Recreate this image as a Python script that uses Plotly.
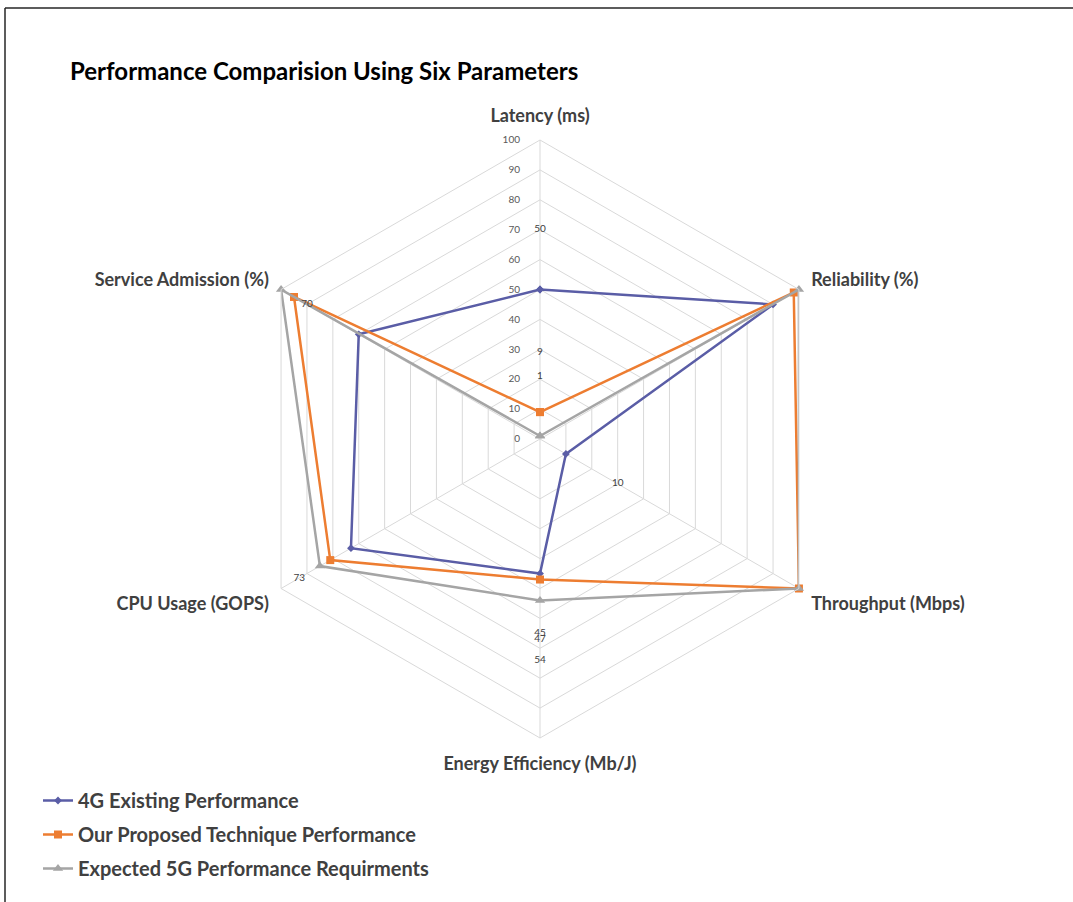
import plotly.graph_objects as go

# Radar axes, clockwise from the top
categories = ["Latency (ms)", "Reliability (%)", "Throughput (Mbps)",
              "Energy Efficiency (Mb/J)", "CPU Usage (GOPS)", "Service Admission (%)"]

series_names = ["4G Existing Performance",
                "Our Proposed Technique Performance",
                "Expected 5G Performance Requirments"]

values_4g = [50, 90, 10, 45, 73, 70]
values_proposed = [9, 98, 100, 47, 81, 95]
values_5g = [1, 100, 100, 54, 85, 100]

radial_ticks = [0, 10, 20, 30, 40, 50, 60, 70, 80, 90, 100]

W, H = 1073, 902
CX, CY, R = 540, 439, 299          # centre and outer radius of the radar, px
LABEL_OFFSET = 20                  # value labels sit this far outside their marker

colors = ["#5A5DA6", "#ED7D31", "#A5A5A5"]
symbols = ["diamond", "square", "triangle-up"]
msizes = [6, 8, 9]
all_values = [values_4g, values_proposed, values_5g]

fig = go.Figure()

for i, (name, vals, col, sym, ms) in enumerate(zip(series_names, all_values, colors, symbols, msizes)):
    fig.add_trace(go.Scatterpolar(
        r=vals + vals[:1], theta=categories + categories[:1],
        mode="lines+markers", name="<b>" + name + "</b>",
        legendgroup=f"g{i}",
        line=dict(color=col, width=2.5),
        marker=dict(color=col, symbol=sym, size=ms),
    ))

for vals in all_values:
    fig.add_trace(go.Scatterpolar(
        r=[v + LABEL_OFFSET for v in vals], theta=categories,
        mode="text", text=[str(v) for v in vals],
        textfont=dict(size=10, color="#404040", family="Lato"),
        showlegend=False, cliponaxis=False, hoverinfo="skip",
    ))

fig.update_layout(
    width=W, height=H,
    margin=dict(l=0, r=0, t=0, b=0),
    paper_bgcolor="white", plot_bgcolor="white",
    font=dict(family="Lato", color="#404040"),
    title=dict(text="<b>Performance Comparision Using Six Parameters</b>",
               x=70 / W, xanchor="left", y=1 - 72 / H, yanchor="middle",
               font=dict(size=24, color="#000000", family="Lato")),
    polar=dict(
        domain=dict(x=[(CX - R) / W, (CX + R) / W],
                    y=[1 - (CY + R) / H, 1 - (CY - R) / H]),
        gridshape="linear",
        bgcolor="white",
        radialaxis=dict(range=[0, 100], tickvals=radial_ticks,
                        angle=90, side="counterclockwise", tickangle=90,
                        showline=False, ticks="outside", ticklen=16,
                        tickcolor="rgba(0,0,0,0)",
                        gridcolor="#D9D9D9", gridwidth=1,
                        tickfont=dict(size=10, color="#595959", family="Lato")),
        angularaxis=dict(direction="clockwise", rotation=90,
                         showline=True, linecolor="#D9D9D9", linewidth=1,
                         gridcolor="#D9D9D9", gridwidth=1,
                         ticks="outside", ticklen=10, tickcolor="rgba(0,0,0,0)",
                         tickfont=dict(size=18, color="#404040", family="Lato"),
                         tickprefix="<b>", ticksuffix="</b>"),
    ),
    legend=dict(x=38 / W, y=1 - 781 / H, xanchor="left", yanchor="top",
                orientation="v", tracegroupgap=5, itemwidth=30,
                font=dict(size=20, color="#404040", family="Lato"),
                bgcolor="rgba(0,0,0,0)"),
    shapes=[
        dict(type="line", xref="paper", yref="paper",
             x0=5 / W, x1=1, y0=1 - 8 / H, y1=1 - 8 / H,
             line=dict(color="#262626", width=1.5)),
        dict(type="line", xref="paper", yref="paper",
             x0=5 / W, x1=5 / W, y0=0, y1=1 - 8 / H,
             line=dict(color="#262626", width=1.5)),
    ],
)

fig.write_html("out.html")
